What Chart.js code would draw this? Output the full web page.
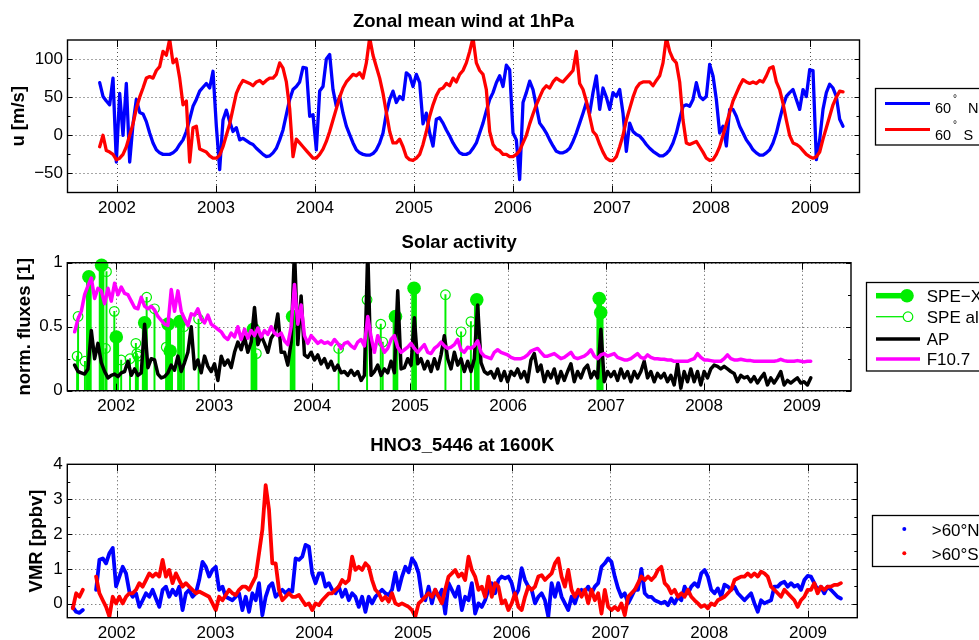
<!DOCTYPE html>
<html>
<head>
<meta charset="utf-8">
<title>Zonal wind, solar activity, HNO3</title>
<script src="https://cdn.jsdelivr.net/npm/chart.js@4.4.1/dist/chart.umd.min.js"></script>
<style>
  body { margin: 0; background: #fff; }
  #wrap { position: relative; width: 979px; height: 640px; overflow: hidden; }
  canvas { position: absolute; left: 0; }
</style>
</head>
<body>
<div id="wrap">
  <canvas id="wind" width="979" height="225" style="top:0px"></canvas>
  <canvas id="solar" width="979" height="205" style="top:225px"></canvas>
  <canvas id="hno3" width="979" height="210" style="top:430px"></canvas>
</div>
<script>
// ---- data ----
const years = [2002, 2003, 2004, 2005, 2006, 2007, 2008, 2009]

// zonal mean wind at 1hPa [m/s], one value every ~12.3 days
const windStart = 2001.825
const windStep = 0.03367
const wind60N = [
  69, 51, 45, 40, 75, -35, 55, 0, 68, -35,
  15, 47, 30, 28, 18, 3, -10, -19, -23, -25,
  -25, -25, -23, -19, -12, -6, 5, 21, 38, 47,
  58, 63, 68, 62, 84, 12, -45, 20, 33, 18,
  5, 10, -6, -4, -7, -10, -12, -17, -21, -25,
  -28, -27, -23, -17, -6, 7, 27, 47, 60, 64,
  70, 89, 88, 25, 27, -19, 58, 64, 100, 106,
  60, 38, 51, 29, 12, 1, -10, -19, -23, -25,
  -26, -26, -24, -19, -10, 3, 29, 47, 58, 43,
  51, 47, 82, 78, 64, 80, 69, 15, 29, 3,
  -14, 21, 23, 16, 7, -1, -10, -17, -23, -25,
  -25, -23, -17, -10, 3, 16, 32,
  47, 56, 69, 78, 64, 92, 86, 3, -6, -58,
  43, 56, 71, 60, 38, 16, 10, 3, -6, -14,
  -21, -23, -23, -21, -17, -8, 3, 16, 29, 43,
  29, 56, 78, 34, 62, 50, 34, 56, 51, 60,
  29, -21, 16, 5, 1, -1, -6, -12, -17, -21,
  -24, -27, -27, -24, -19, -10, 3, 21, 38, 40,
  38, 47, 69, 51, 47, 51, 93, 78, 47, 3,
  12, -14, 34, 34, 25, 12, 3, -6, -12, -19,
  -23, -26, -26, -23, -19, -10, 3, 21, 38, 51,
  56, 60, 47, 34, 60, 51, 86, 85, -32, -6,
  34, 56, 67, 62, 51, 21, 12
]
const wind60S = [
  -15, 0, -20, -22, -25, -32, -30, -25, -15, 0,
  15, 35, 50, 62, 75, 77, 75, 85, 90, 110,
  105, 126, 95, 100, 75, 40, 45, -35, 10, 12,
  -18, -20, -22, -27, -30, -30, -26, -15, 0, 15,
  35, 55, 65, 72, 70, 68, 65, 70, 72, 68,
  72, 75, 75, 80, 95, 88, 70, 35, -28, -5,
  -10, -15, -20, -25, -30, -30, -25, -18, -8, 5,
  20, 35, 50, 62, 70, 75, 80, 78, 82, 75,
  95, 128, 105, 90, 75, 55, 30, 5, -10, -10,
  -5, -15, -28, -32, -33, -30, -25, -12, 5, 25,
  40, 52, 60, 62, 68, 65, 75, 70, 80, 85,
  95, 110, 128, 95, 85, 80, 60,
  5, -12, -18, -20, -25, -25, -28, -28, -25, -20,
  -10, 0, 15, 28, 40, 50, 60, 65, 62, 70,
  75, 72, 70, 75, 80, 85, 110, 68, 60, 45,
  25, 5, 0, -12, -22, -30, -33, -33, -28, -15,
  0, 20, 35, 50, 62, 68, 70, 70, 70, 65,
  72, 78, 95, 128, 110, 100, 95, 70, 20, -10,
  -12, -10, -8, -15, -22, -30, -33, -32, -25, -15,
  0, 15, 30, 45, 55, 65, 73, 70, 68, 70,
  68, 72, 70, 78, 88, 90, 70, 60, 42, 20,
  0, -10, -12, -15, -20, -25, -28, -30, -28, -22,
  -5, 10, 25, 40, 50, 58, 57
]
const windTicks = [-50, 0, 50, 100]
const windMinor = [-25, 25, 75]

// solar activity, normalised, one value every ~12.4 days
const solarStart = 2001.575
const solarStep = 0.034
const apIndex = [
  0.20, 0.15, 0.14, 0.13, 0.17, 0.47, 0.25, 0.37, 0.22, 0.15,
  0.10, 0.12, 0.13, 0.11, 0.14, 0.15, 0.23, 0.12, 0.17, 0.12,
  0.14, 0.52, 0.18, 0.25, 0.24, 0.13, 0.10, 0.11, 0.14, 0.20,
  0.16, 0.27, 0.15, 0.22, 0.30, 0.50, 0.17, 0.24, 0.14, 0.27,
  0.19, 0.15, 0.21, 0.08, 0.27, 0.20, 0.24, 0.18, 0.30, 0.38,
  0.32, 0.42, 0.30, 0.38, 0.65, 0.36, 0.43, 0.37, 0.30, 0.41,
  0.45, 0.60, 0.30, 0.30, 0.20, 0.38, 1.10, 0.36, 0.74, 0.28,
  0.26, 0.30, 0.24, 0.28, 0.21, 0.25, 0.18, 0.23, 0.16, 0.20,
  0.14, 0.15, 0.12, 0.16, 0.12, 0.15, 0.08, 0.12, 1.10, 0.12,
  0.15, 0.20, 0.12, 0.17, 0.14, 0.23, 0.14, 0.78, 0.17, 0.18,
  0.25, 0.20, 0.57, 0.21, 0.25, 0.17, 0.23, 0.15, 0.25, 0.17,
  0.28, 0.43, 0.25, 0.17, 0.30, 0.20, 0.25, 0.15, 0.23, 0.15,
  0.25, 0.67, 0.22, 0.15, 0.13,
  0.15, 0.10, 0.17, 0.08, 0.15, 0.07, 0.15, 0.12, 0.17, 0.10,
  0.15, 0.07, 0.24, 0.29, 0.15, 0.20, 0.07, 0.15, 0.10, 0.17,
  0.06, 0.15, 0.08, 0.15, 0.21, 0.07, 0.15, 0.10, 0.17, 0.20,
  0.10, 0.15, 0.10, 0.48, 0.07, 0.15, 0.11, 0.15, 0.08, 0.17,
  0.10, 0.15, 0.07, 0.15, 0.10, 0.15, 0.23, 0.10, 0.15, 0.07,
  0.135, 0.10, 0.135, 0.07, 0.12, 0.045, 0.21, 0.02, 0.15, 0.07,
  0.17, 0.07, 0.15, 0.045, 0.15, 0.10, 0.17, 0.20, 0.19, 0.17,
  0.19, 0.17, 0.15, 0.135, 0.07, 0.12, 0.10, 0.11, 0.07, 0.11,
  0.06, 0.10, 0.135, 0.045, 0.10, 0.06, 0.10, 0.15, 0.045, 0.08,
  0.06, 0.08, 0.10, 0.06, 0.07, 0.045, 0.10
]
const f107 = [
  0.46, 0.56, 0.62, 0.75, 0.82, 0.88, 0.72, 0.80, 0.78, 0.68,
  0.80, 0.70, 0.84, 0.75, 0.81, 0.76, 0.75, 0.70, 0.65, 0.64,
  0.73, 0.66, 0.64, 0.66, 0.63, 0.58, 0.55, 0.52, 0.51, 0.79,
  0.62, 0.78, 0.62, 0.56, 0.51, 0.60, 0.59, 0.64, 0.56, 0.53,
  0.59, 0.52, 0.50, 0.48, 0.46, 0.42, 0.40, 0.45, 0.42, 0.50,
  0.40, 0.48, 0.41, 0.47, 0.43, 0.49, 0.42, 0.47, 0.44, 0.50,
  0.45, 0.43, 0.45, 0.39, 0.36, 0.50, 0.83, 0.52, 0.67, 0.43,
  0.37, 0.43, 0.40, 0.37, 0.39, 0.37, 0.38, 0.36, 0.40, 0.37,
  0.33, 0.37, 0.38, 0.35, 0.33, 0.38, 0.40, 0.35, 0.58, 0.42,
  0.30, 0.43, 0.36, 0.30, 0.33, 0.40, 0.43, 0.34, 0.30, 0.32,
  0.34, 0.37, 0.33, 0.30, 0.33, 0.36, 0.30, 0.29, 0.33, 0.35,
  0.38, 0.35, 0.33, 0.34, 0.36, 0.40, 0.32, 0.30, 0.34, 0.33,
  0.35, 0.39, 0.30, 0.27, 0.26,
  0.25, 0.30, 0.32, 0.30, 0.29, 0.28, 0.26, 0.25, 0.25, 0.25,
  0.26, 0.28, 0.31, 0.32, 0.33, 0.30, 0.27, 0.27, 0.28, 0.29,
  0.27, 0.25, 0.26, 0.28, 0.30, 0.26, 0.25, 0.26, 0.27, 0.29,
  0.32, 0.27, 0.25, 0.28, 0.29, 0.27, 0.28, 0.29, 0.26, 0.25,
  0.24, 0.24, 0.25, 0.27, 0.29, 0.26, 0.25, 0.28, 0.26, 0.25,
  0.25, 0.245, 0.245, 0.24, 0.24, 0.23, 0.23, 0.23, 0.23, 0.23,
  0.24, 0.25, 0.29, 0.26, 0.24, 0.24, 0.235, 0.23, 0.23, 0.23,
  0.25, 0.28, 0.25, 0.24, 0.24, 0.245, 0.24, 0.235, 0.235, 0.23,
  0.23, 0.23, 0.23, 0.23, 0.23, 0.23, 0.235, 0.245, 0.235, 0.23,
  0.23, 0.23, 0.235, 0.23, 0.225, 0.23, 0.23
]
// solar proton events [year, normalised flux]
const speX = [
  [2001.72, 0.89], [2001.85, 0.98], [2002.00, 0.42], [2002.29, 0.53],
  [2002.53, 0.52], [2002.55, 0.31], [2002.65, 0.54], [2003.40, 0.48],
  [2003.80, 0.58], [2004.85, 0.58], [2005.04, 0.80], [2005.68, 0.71],
  [2006.93, 0.72], [2006.945, 0.61]
]
const speAll = [
  [2001.60, 0.27], [2001.61, 0.58], [2001.68, 0.23], [2001.89, 0.33],
  [2001.90, 0.93], [2001.98, 0.62], [2002.05, 0.24], [2002.14, 0.25],
  [2002.20, 0.37], [2002.21, 0.29], [2002.22, 0.27], [2002.31, 0.73],
  [2002.39, 0.64], [2002.51, 0.34], [2002.69, 0.50], [2002.84, 0.56],
  [2003.43, 0.29], [2004.27, 0.33], [2004.56, 0.71], [2004.70, 0.52],
  [2004.72, 0.38], [2005.36, 0.75], [2005.52, 0.46], [2005.62, 0.54]
]
const solarTicks = [0, 0.5, 1]
const solarMinor = [0.25, 0.75]

// HNO3_5446 at 1600K [ppbv], one value every ~12.3 days
const hno3Start = 2001.556
const hno3Step = 0.03367
const hno3N = [
  -0.1, -0.23, -0.26, -0.18, null, null, null, 0.4, 1.26, 1.3,
  1.16, 1.45, 1.6, 0.5, 0.78, 1.06, 0.87, 0.35, 0.2, 0.3,
  -0.09, 0.1, 0.3, 0.2, 0.4, 0.15, -0.09, 0.4, 0.49, 0.2,
  0.4, 0.25, 0.49, -0.18, 0.3, 0.4, 0.2, 0.3, 0.68, 1.2,
  1.06, 0.78, 0.97, 1.06, 0.4, 0.49, 0.2, 0.15, 0.1, 0.2,
  0.3, -0.18, 0.2, -0.23, 0.3, 0.1, 0.59, -0.33, 0.2, 0.49,
  0.59, 0.2, 0.3, 0.4, 0.3, 0.4, 0.35, 1.3, 1.26, 1.35,
  1.69, 1.64, 0.87, 0.59, 0.87, 0.87, 0.49, 0.59, 0.4, 0.3,
  0.49, 0.2, 0.4, 0.1, 0.3, 0.2, -0.09, 0.2, -0.23, 0.2,
  0.01, 0.2, 0.3, 0.4, 0.3, 0.25, 0.4, 0.9, 0.4, 0.78,
  1.06, 0.9, 1.3, 1.16, 0.87, 0.2, 0.1, 0.49, 0.01, 0.4,
  0.2, 0.4, -0.28, 0.59, 0.4, 0.2, 0.49, -0.18, 0.2, 0.1,
  0.59, -0.28, 0.01, -0.09, 0.1,
  0.4, 0.59, 0.3, 0.68, 0.78, 0.73, 0.78, 0.59, 0.2, 0.4,
  1.02, 0.68, 0.49, 0.4, 0.01, 0.2, 0.3, 0.1, -0.37, 0.59,
  0.2, 0.59, 0.2, 0.01, -0.18, 0.2, 0.01, 0.3, 0.4, 0.35,
  0.49, 0.3, 0.49, 0.59, 1.06, 1.16, 1.3, 1.2, 0.78, 0.44,
  0.2, 0.3, 0.01, 0.2, 0.4, 0.4, 1.0, 0.3, 0.2, 0.2,
  0.1, 0.06, 0.01, 0.06, -0.04, 0.15, 0.01, 0.2, 0.1, 0.49,
  0.3, 0.49, 0.59, 0.49, 0.87, 0.97, 0.78, 0.4, 0.3, 0.44,
  0.2, 0.55, 0.49, 0.4, 0.49, 0.3, 0.2, 0.1, 0.2, 0.3,
  0.01, -0.23, 0.1, 0.01, 0.06, 0.1, 0.49, 0.49, 0.59, 0.63,
  0.49, 0.59, 0.49, 0.54, 0.4, 0.68, 0.8, 0.78, 0.59, 0.4,
  0.49, 0.3, 0.49, 0.4, 0.3, 0.2, 0.15
]
const hno3S = [
  -0.13, 0.3, 0.2, 0.4, null, null, null, 0.78, 0.3, 0.1,
  -0.09, -0.37, 0.2, 0.01, 0.2, 0.01, 0.2, 0.3, 0.3, 0.4,
  0.59, 0.49, 0.68, 0.87, 0.78, 0.87, 0.78, 1.26, 0.78, 0.97,
  0.59, 0.87, 0.68, 0.49, 0.59, 0.49, 0.4, 0.3, 0.35, 0.3,
  0.25, 0.2, 0.01, -0.18, 0.2, 0.1, 0.25, 0.4, 0.3, 0.25,
  0.4, 0.49, 0.49, 0.4, 0.59, 0.78, 1.45, 2.12, 3.4, 2.7,
  1.16, 1.16, 0.4, 0.1, 0.2, 0.3, 0.2, 0.2, 0.25, 0.1,
  -0.04, 0.01, -0.18, 0.01, -0.04, 0.1, 0.2, 0.3, 0.3, 0.4,
  0.49, 0.68, 0.59, 0.68, 1.35, 0.97, 1.06, 0.97, 1.16, 1.06,
  0.68, 0.4, 0.3, 0.1, 0.2, 0.06, 0.3, 0.01, -0.04, 0.01,
  -0.04, -0.09, -0.18, -0.37, 0.01, 0.1, 0.2, 0.3, 0.2, 0.4,
  0.2, 0.01, 0.4, 0.78, 0.87, 0.97, 0.78, 0.87, 0.68, 1.35,
  0.97, 0.78, 0.4, 0.49, 0.2,
  0.78, 0.2, 0.59, 0.49, 0.01, 0.1, -0.18, 0.01, 0.3, -0.09,
  -0.18, 0.2, 0.49, 0.4, 0.49, 0.78, 0.82, 0.68, 0.78, 0.87,
  1.16, 1.3, 0.78, 0.49, 0.97, 0.4, 0.2, 0.4, 0.2, 0.4,
  0.01, 0.4, 0.1, 0.3, -0.28, 0.4, -0.09, -0.18, -0.09, -0.18,
  0.01, -0.33, 0.2, 0.3, 0.4, 0.59, 0.78, 0.68, 0.78, 0.68,
  0.78, 0.97, 1.06, 0.59, 0.49, 0.3, 0.4, 0.2, 0.3, 0.2,
  0.4, 0.2, 0.1, 0.01, -0.09, -0.04, -0.13, 0.01, -0.04, 0.1,
  0.15, 0.2, 0.3, 0.4, 0.68, 0.73, 0.78, 0.78, 0.87, 0.78,
  0.87, 0.78, 0.92, 0.87, 0.78, 0.49, 0.4, 0.3, 0.2, 0.4,
  0.3, 0.2, 0.1, -0.09, 0.1, 0.2, 0.4, 0.4, 0.59, 0.3,
  0.49, 0.4, 0.49, 0.49, 0.54, 0.54, 0.59
]
const hno3Ticks = [0, 1, 2, 3, 4]
const hno3Minor = [0.5, 1.5, 2.5, 3.5]

// ---- look ----
const W = 979
const FONT = "'Liberation Sans', Arial, Helvetica, sans-serif"
const BLUE = '#0000ff'
const RED = '#ff0000'
const GREEN = '#00ee00'
const MAGENTA = '#ff00ff'
const BLACK = '#000000'

Chart.defaults.font.family = FONT
Chart.defaults.color = '#000'

function series(start, step, values) {
  return values.map((v, i) => ({ x: start + i * step, y: v }))
}
function pairs(list) {
  return list.map(([x, y]) => ({ x, y }))
}

function drawLegend(ctx, lg) {
  const [bx, by, bw, bh] = lg.box
  ctx.setLineDash([])
  ctx.fillStyle = '#fff'
  ctx.fillRect(bx, by, bw, bh)
  ctx.strokeStyle = '#000'
  ctx.lineWidth = 1.3
  ctx.strokeRect(bx, by, bw, bh)
  for (const r of lg.rows) {
    if (r.line) {
      ctx.strokeStyle = r.color
      ctx.lineWidth = r.line[2]
      ctx.beginPath()
      ctx.moveTo(r.line[0], r.y)
      ctx.lineTo(r.line[1], r.y)
      ctx.stroke()
    }
    if (r.marker) {
      ctx.beginPath()
      ctx.arc(r.marker.x, r.y, r.marker.r, 0, Math.PI * 2)
      if (r.marker.fill) {
        ctx.fillStyle = r.color
        ctx.fill()
      } else {
        ctx.strokeStyle = r.color
        ctx.lineWidth = 1.2
        ctx.stroke()
      }
    }
    ctx.fillStyle = '#000'
    ctx.textAlign = 'left'
    ctx.textBaseline = 'alphabetic'
    for (const p of r.parts) {
      ctx.font = `${p.size || lg.font}px ${FONT}`
      ctx.fillText(p.t, p.x, r.y + lg.baseline + (p.dy || 0))
    }
  }
}

// MATLAB-like axes: box, inner ticks, dotted grid, title and boxed legend
const matlabAxes = {
  id: 'matlabAxes',
  beforeDatasetsDraw(chart, args, o) {
    const { ctx, chartArea: a, scales: { x, y } } = chart
    ctx.save()
    ctx.strokeStyle = 'rgba(0,0,0,0.7)'
    ctx.lineWidth = 1
    ctx.setLineDash([1, 3])
    ctx.beginPath()
    for (const t of x.ticks) {
      const px = Math.round(x.getPixelForValue(t.value)) + 0.5
      ctx.moveTo(px, a.top)
      ctx.lineTo(px, a.bottom)
    }
    for (const t of y.ticks) {
      const py = Math.round(y.getPixelForValue(t.value)) + 0.5
      ctx.moveTo(a.left, py)
      ctx.lineTo(a.right, py)
    }
    ctx.stroke()
    ctx.restore()
  },
  afterDatasetsDraw(chart, args, o) {
    const { ctx, chartArea: a, scales: { x, y } } = chart
    ctx.save()
    ctx.setLineDash([])
    ctx.strokeStyle = '#000'
    ctx.lineWidth = 1
    ctx.beginPath()
    for (const t of x.ticks) {
      const px = Math.round(x.getPixelForValue(t.value)) + 0.5
      ctx.moveTo(px, a.bottom)
      ctx.lineTo(px, a.bottom - 7)
      ctx.moveTo(px, a.top)
      ctx.lineTo(px, a.top + 7)
    }
    const yTick = (v, len) => {
      const py = Math.round(y.getPixelForValue(v)) + 0.5
      ctx.moveTo(a.left, py)
      ctx.lineTo(a.left + len, py)
      ctx.moveTo(a.right, py)
      ctx.lineTo(a.right - len, py)
    }
    y.ticks.forEach(t => yTick(t.value, 5))
    o.minor.forEach(v => yTick(v, 3))
    ctx.stroke()
    ctx.lineWidth = 1.4
    ctx.strokeRect(a.left, a.top, a.right - a.left, a.bottom - a.top)

    ctx.fillStyle = '#000'
    ctx.font = `bold 18.5px ${FONT}`
    ctx.textAlign = 'center'
    ctx.textBaseline = 'alphabetic'
    ctx.fillText(o.title, (a.left + a.right) / 2, o.titleY)

    drawLegend(ctx, o.legend)
    ctx.restore()
  }
}

function makeChart(id, cfg) {
  const canvas = document.getElementById(id)
  const H = canvas.height
  return new Chart(canvas, {
    type: 'line',
    data: { datasets: cfg.datasets },
    plugins: [matlabAxes],
    options: {
      responsive: false,
      animation: false,
      events: [],
      layout: { padding: { left: 0, top: cfg.area.top, right: W - cfg.area.right, bottom: 0 } },
      elements: {
        point: { radius: 0 },
        line: { tension: 0, borderJoinStyle: 'round', borderCapStyle: 'round' }
      },
      plugins: {
        legend: { display: false },
        tooltip: { enabled: false },
        matlabAxes: { title: cfg.title, titleY: cfg.titleY, minor: cfg.minor, legend: cfg.legend }
      },
      scales: {
        x: {
          type: 'linear',
          min: 2001.5,
          max: 2009.5,
          offset: false,
          afterBuildTicks: s => { s.ticks = years.map(v => ({ value: v })) },
          afterFit: s => { s.height = H - cfg.area.bottom },
          grid: { display: false, drawTicks: false, tickLength: 0 },
          border: { display: false },
          ticks: {
            autoSkip: false, maxRotation: 0, padding: 5.5,
            font: { size: 17 }, color: '#000',
            callback: v => String(v)
          }
        },
        y: {
          type: 'linear',
          min: cfg.yMin,
          max: cfg.yMax,
          afterBuildTicks: s => { s.ticks = cfg.yTicks.map(v => ({ value: v })) },
          afterFit: s => { s.width = cfg.area.left },
          grid: { display: false, drawTicks: false, tickLength: 0 },
          border: { display: false },
          ticks: {
            padding: 4.5, font: { size: 17 }, color: '#000',
            callback: v => (v < 0 ? '\u2212' + (-v) : String(v))
          },
          title: {
            display: true, text: cfg.yLabel, color: '#000',
            font: { size: 18.5, weight: 'bold' },
            padding: { top: cfg.yLabelPad, bottom: 0 }
          }
        }
      }
    }
  })
}

// ---- zonal wind ----
makeChart('wind', {
  area: { left: 67.5, right: 859.5, top: 40, bottom: 192.5 },
  yMin: -75, yMax: 125, yTicks: windTicks, minor: windMinor,
  yLabel: 'u [m/s]', yLabelPad: 8.1,
  title: 'Zonal mean wind at 1hPa', titleY: 26.7,
  datasets: [
    { label: '60° N', data: series(windStart, windStep, wind60N), borderColor: BLUE, borderWidth: 3.3, order: 1 },
    { label: '60° S', data: series(windStart, windStep, wind60S), borderColor: RED, borderWidth: 3.3, order: 0 }
  ],
  legend: {
    box: [875.5, 88.5, 140, 56.5], font: 14.5, baseline: 10,
    rows: [
      { y: 103.4, color: BLUE, line: [885, 930, 3],
        parts: [{ t: '60', x: 935 }, { t: '°', x: 953, size: 10, dy: -11.4 }, { t: 'N', x: 968 }] },
      { y: 129.6, color: RED, line: [885, 930, 3],
        parts: [{ t: '60', x: 935 }, { t: '°', x: 953, size: 10, dy: -11.4 }, { t: 'S', x: 963.5 }] }
    ]
  }
})

// ---- solar activity ----
makeChart('solar', {
  area: { left: 67.3, right: 851, top: 37.7, bottom: 165.7 },
  yMin: 0, yMax: 1, yTicks: solarTicks, minor: solarMinor,
  yLabel: 'norm. fluxes [1]', yLabelPad: 13.4,
  title: 'Solar activity', titleY: 23,
  datasets: [
    { label: 'F10.7', data: series(solarStart, solarStep, f107), borderColor: MAGENTA, borderWidth: 3.5, order: 0 },
    { label: 'AP', data: series(solarStart, solarStep, apIndex), borderColor: BLACK, borderWidth: 3.5, order: 1 },
    { label: 'SPE all', data: pairs(speAll), showLine: false, clip: false, pointStyle: 'circle',
      pointRadius: 4.8, pointBorderWidth: 1.2, pointBorderColor: GREEN,
      pointBackgroundColor: 'rgba(0,0,0,0)', order: 2 },
    { type: 'bar', label: 'SPE all stems', data: pairs(speAll), backgroundColor: GREEN,
      barThickness: 1.3, grouped: false, borderWidth: 0, order: 3 },
    { label: 'SPE-X', data: pairs(speX), showLine: false, clip: false, pointStyle: 'circle',
      pointRadius: 6.8, pointBorderWidth: 0, pointBackgroundColor: GREEN, order: 4 },
    { type: 'bar', label: 'SPE-X stems', data: pairs(speX), backgroundColor: GREEN,
      barThickness: 5, grouped: false, borderWidth: 0, order: 5 }
  ],
  legend: {
    box: [866.5, 57.5, 130, 88.5], font: 17, baseline: 6.2,
    rows: [
      { y: 70.7, color: GREEN, line: [876, 907, 5.5], marker: { x: 907, r: 6.8, fill: true },
        parts: [{ t: 'SPE\u2212X', x: 926.7 }] },
      { y: 91.7, color: GREEN, line: [876, 903, 1.3], marker: { x: 908, r: 4.8, fill: false },
        parts: [{ t: 'SPE all', x: 926.7 }] },
      { y: 114, color: BLACK, line: [876, 920, 3.5], parts: [{ t: 'AP', x: 926.7 }] },
      { y: 134, color: MAGENTA, line: [876, 920, 3.5], parts: [{ t: 'F10.7', x: 926.7 }] }
    ]
  }
})

// ---- HNO3 ----
makeChart('hno3', {
  area: { left: 67.3, right: 857.3, top: 34.3, bottom: 187.7 },
  yMin: -0.4, yMax: 4, yTicks: hno3Ticks, minor: hno3Minor,
  yLabel: 'VMR [ppbv]', yLabelPad: 26.1,
  title: 'HNO3_5446 at 1600K', titleY: 21,
  datasets: [
    { label: '>60°N', data: series(hno3Start, hno3Step, hno3N), borderColor: BLUE, borderWidth: 3.8, spanGaps: false, order: 1 },
    { label: '>60°S', data: series(hno3Start, hno3Step, hno3S), borderColor: RED, borderWidth: 3.8, spanGaps: false, order: 0 }
  ],
  legend: {
    box: [872.5, 85.5, 120, 51], font: 17, baseline: 7,
    rows: [
      { y: 99, color: BLUE, marker: { x: 904.3, r: 2, fill: true }, parts: [{ t: '>60°N', x: 931.7 }] },
      { y: 123.3, color: RED, marker: { x: 904.3, r: 2, fill: true }, parts: [{ t: '>60°S', x: 931.7 }] }
    ]
  }
})
</script>
</body>
</html>
